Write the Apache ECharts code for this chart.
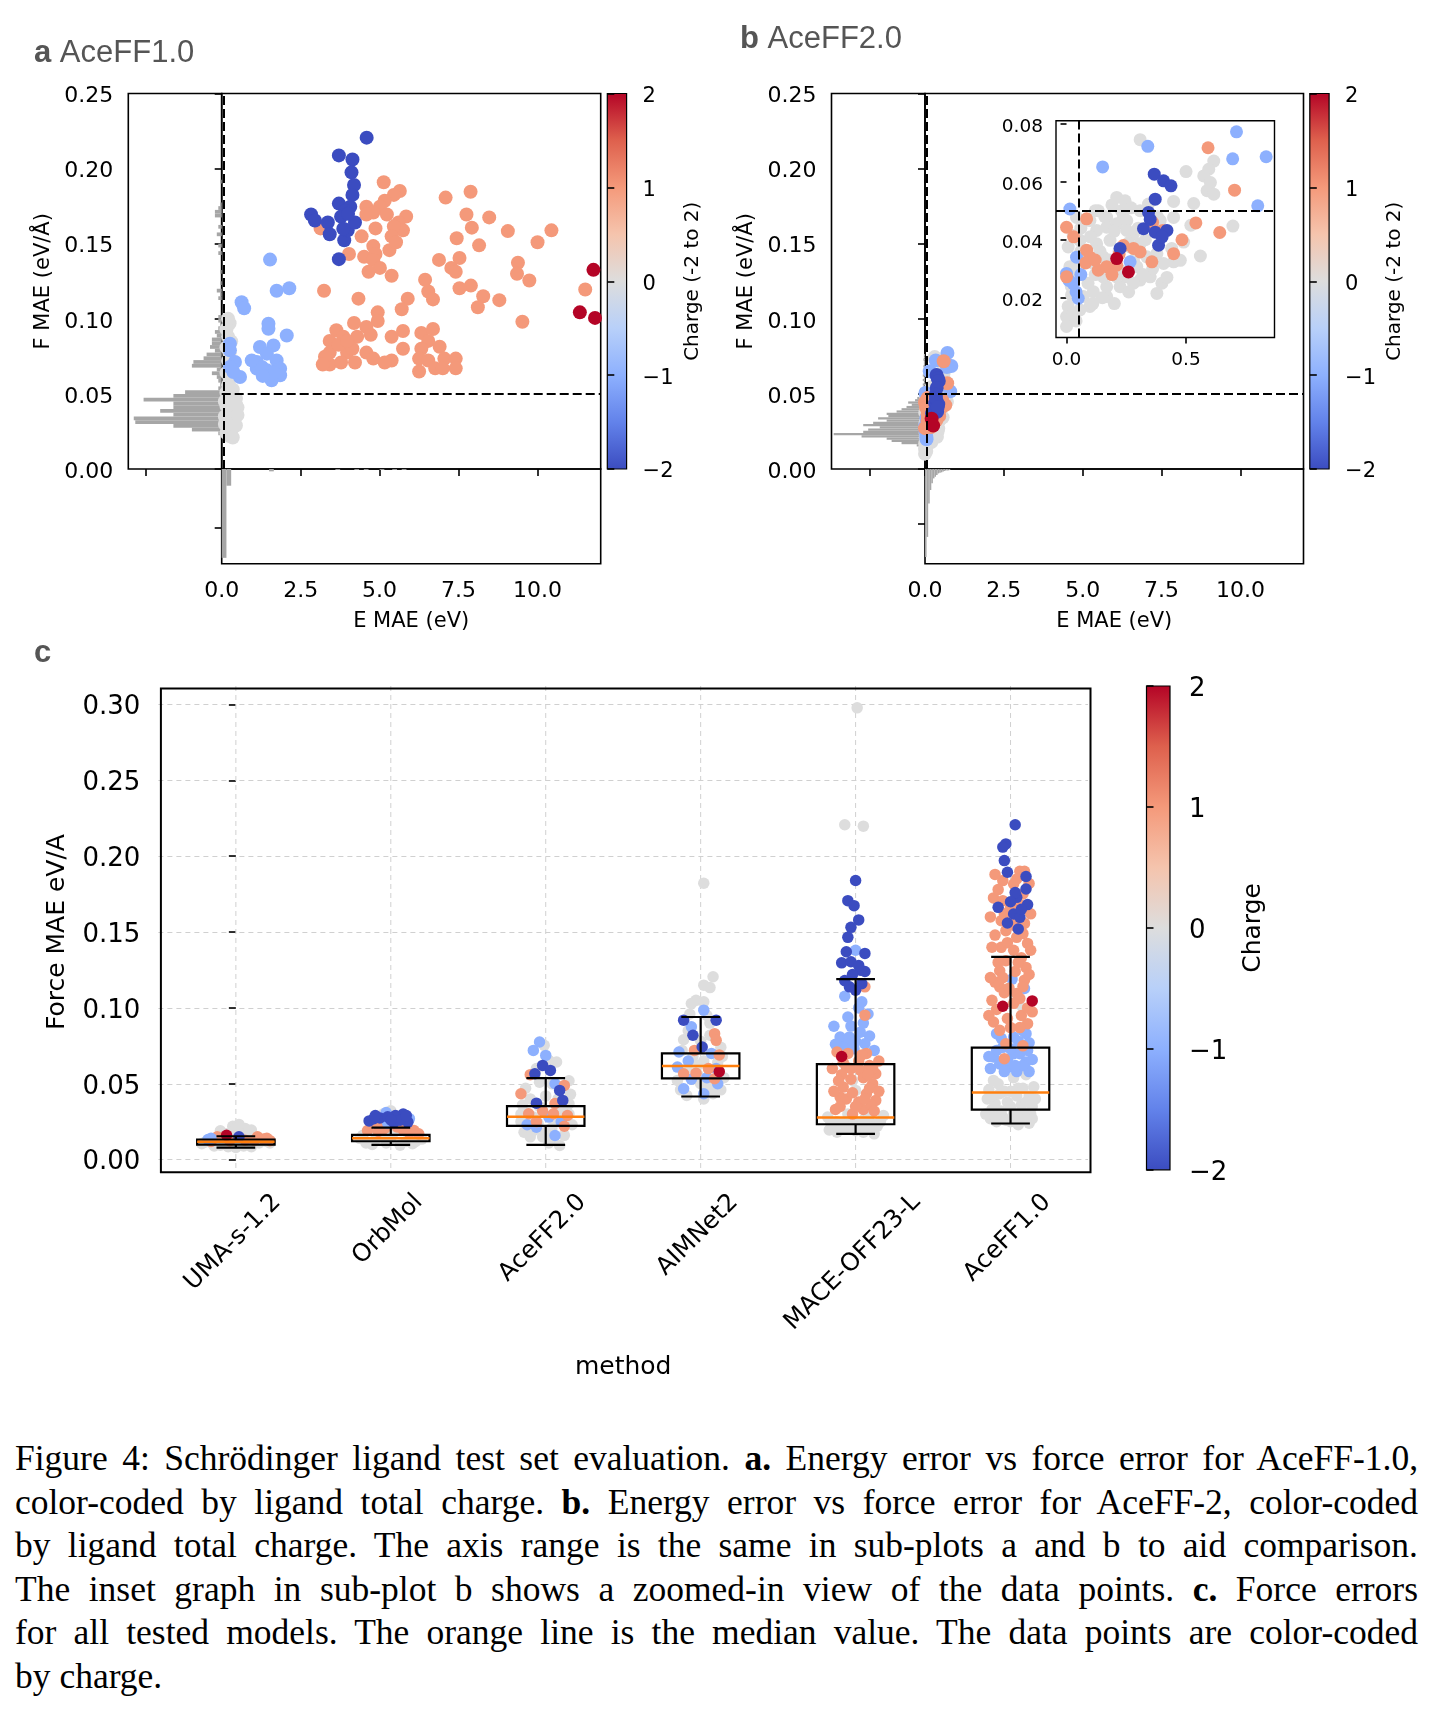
<!DOCTYPE html>
<html>
<head>
<meta charset="utf-8">
<script src="https://cdn.jsdelivr.net/npm/echarts@6/dist/echarts.min.js"></script>
<style>
body { margin: 0; background: #fff; }
#container { position: absolute; left: 0; top: 0; width: 1435px; height: 1420px; }
#caption { position: absolute; left: 15px; top: 1437px; width: 1403px; font-family: 'Liberation Serif', serif; font-size: 35.5px; color: #000; }
#caption div { height: 43.6px; line-height: 43.6px; text-align: justify; text-align-last: justify; white-space: nowrap; }
#caption div.last { text-align-last: left; }
</style>
</head>
<body>
<div id="container"></div>
<div id="caption">
<div>Figure 4: Schrödinger ligand test set evaluation. <b>a.</b> Energy error vs force error for AceFF-1.0,</div>
<div>color-coded by ligand total charge. <b>b.</b> Energy error vs force error for AceFF-2, color-coded</div>
<div>by ligand total charge. The axis range is the same in sub-plots a and b to aid comparison.</div>
<div>The inset graph in sub-plot b shows a zoomed-in view of the data points. <b>c.</b> Force errors</div>
<div>for all tested models. The orange line is the median value. The data points are color-coded</div>
<div class="last">by charge.</div>
</div>
<script>
// ---- data ----
var methods = ['UMA-s-1.2', 'OrbMol', 'AceFF2.0', 'AIMNet2', 'MACE-OFF23-L', 'AceFF1.0'];
var eTicks = [0, 2.5, 5, 7.5, 10];

// panel a : AceFF1.0, [E MAE, F MAE, charge]
var aceff1Scatter = [
  [0.2,0.100,0],[0.25,0.097,0],[0.15,0.093,0],[0.2,0.088,0],[0.3,0.085,0],[0.15,0.081,0],[0.25,0.077,0],[0.2,0.072,0],
  [0.3,0.068,0],[0.15,0.064,0],[0.25,0.060,0],[0.2,0.056,0],[0.35,0.053,0],[0.15,0.051,0],[0.3,0.049,0],[0.45,0.047,0],
  [0.2,0.046,0],[0.35,0.044,0],[0.15,0.042,0],[0.5,0.041,0],[0.25,0.040,0],[0.4,0.038,0],[0.2,0.037,0],[0.45,0.035,0],
  [0.3,0.034,0],[0.15,0.033,0],[0.4,0.031,0],[0.25,0.030,0],[0.35,0.028,0],[0.2,0.027,0],[0.3,0.025,0],[0.15,0.024,0],
  [0.25,0.022,0],[0.35,0.021,0],[0.45,0.029,0],[0.5,0.036,0],[0.1,0.045,0],[0.1,0.035,0],[0.1,0.030,0],[0.45,0.043,0],
  [1.53,0.1394,-1],[1.74,0.1187,-1],[2.14,0.1203,-1],[0.63,0.111,-1],[0.71,0.107,-1],[1.48,0.0967,-1],[1.48,0.0934,-1],
  [2.06,0.0889,-1],[0.26,0.0834,-1],[0.26,0.079,-1],[1.21,0.0812,-1],[1.64,0.0823,-1],[1.43,0.0768,-1],[0.42,0.0712,-1],
  [0.26,0.0679,-1],[1.11,0.0712,-1],[1.74,0.0723,-1],[0.58,0.0613,-1],[0.37,0.0646,-1],[1.11,0.0668,-1],[1.43,0.0657,-1],
  [1.85,0.0668,-1],[1.58,0.0591,-1],[1.85,0.0624,-1],[1.27,0.0679,-1],[0.95,0.0723,-1],[1.65,0.064,-1],[1.3,0.062,-1],
  [5.13,0.1909,1],[5.64,0.1851,1],[5.45,0.1825,1],[5.16,0.1786,1],[5.01,0.1746,1],[4.58,0.1746,1],[4.8,0.1707,1],
  [5.23,0.1694,1],[4.58,0.1694,1],[5.84,0.1681,1],[5.6,0.1641,1],[5.74,0.1589,1],[5.45,0.1615,1],[4.87,0.1602,1],
  [3.13,0.1602,1],[4.43,0.1549,1],[5.38,0.1549,1],[5.31,0.1457,1],[5.52,0.151,1],[4.8,0.1484,1],[4.03,0.1431,1],
  [4.51,0.1413,1],[4.87,0.1431,1],[4.8,0.1392,1],[5.01,0.1339,1],[4.65,0.1313,1],[5.38,0.1287,1],[7.09,0.1807,1],
  [7.88,0.1846,1],[7.75,0.1694,1],[8.47,0.1675,1],[7.92,0.1607,1],[9.06,0.1584,1],[10.44,0.1589,1],[10.0,0.151,1],
  [7.44,0.1536,1],[8.15,0.1489,1],[9.38,0.1373,1],[9.35,0.13,1],[6.88,0.1392,1],[7.53,0.1405,1],[7.27,0.1339,1],
  [7.41,0.1313,1],[9.74,0.1255,1],[6.44,0.126,1],[7.89,0.1221,1],[7.53,0.1203,1],[6.54,0.1182,1],[8.28,0.115,1],
  [8.79,0.1124,1],[8.11,0.1077,1],[5.89,0.1134,1],[5.7,0.1064,1],[6.69,0.1129,1],[3.24,0.1187,1],[4.33,0.1134,1],
  [11.51,0.1195,1],[9.52,0.098,1],[4.94,0.1043,1],[4.94,0.0985,1],[4.19,0.0972,1],[4.58,0.0945,1],[3.63,0.0924,1],
  [3.42,0.0853,1],[3.85,0.088,1],[4.29,0.088,1],[4.72,0.0893,1],[5.38,0.088,1],[5.74,0.0919,1],[6.32,0.0906,1],
  [6.69,0.0932,1],[6.54,0.0853,1],[6.9,0.0814,1],[5.74,0.0801,1],[6.32,0.0801,1],[3.42,0.0775,1],[3.97,0.0775,1],
  [4.58,0.0775,1],[4.8,0.0735,1],[5.38,0.0722,1],[3.42,0.0696,1],[3.78,0.0709,1],[4.22,0.0709,1],[3.27,0.0748,1],
  [3.7,0.0827,1],[4.14,0.0801,1],[6.25,0.0735,1],[6.54,0.0722,1],[7.05,0.0735,1],[7.41,0.0735,1],[6.76,0.067,1],
  [7.41,0.067,1],[6.25,0.0649,1],[7.0,0.067,1],[3.2,0.0696,1],[5.16,0.0709,1],[3.97,0.0853,1],
  [4.59,0.2206,-2],[3.71,0.2088,-2],[4.14,0.2061,-2],[4.11,0.1975,-2],[4.19,0.1891,-2],[4.14,0.1825,-2],[3.71,0.1767,-2],
  [4.07,0.1746,-2],[2.83,0.1694,-2],[2.95,0.1654,-2],[3.36,0.1641,-2],[3.42,0.1563,-2],[3.88,0.1523,-2],[3.99,0.1589,-2],
  [4.22,0.1641,-2],[3.71,0.1397,-2],[3.92,0.172,-2],[3.78,0.168,-2],[4.0,0.17,-2],[3.85,0.16,-2],
  [11.77,0.1326,2],[11.34,0.1043,2],[11.82,0.1006,2]
];
// panel a marginal histograms: [bin start, count]
var aceff1HistF = [
  [0.0225,0.9],[0.025,7.9],[0.0275,12.8],[0.03,22.9],[0.0325,23.3],[0.035,12.8],[0.0375,16.3],[0.04,12.8],[0.0425,12.8],
  [0.045,20.7],[0.0475,12.8],[0.05,9.7],[0.0525,0.9],[0.055,0.4],[0.0575,0.9],[0.06,1.3],[0.0625,2.6],[0.065,1.3],
  [0.0675,7.9],[0.07,7.5],[0.0725,4.8],[0.075,4.0],[0.0775,1.8],[0.08,3.1],[0.0825,2.6],[0.085,2.6],[0.0875,1.3],
  [0.09,1.8],[0.0925,0.9],[0.095,0.4],[0.0975,0.9],[0.1,0.9],[0.1125,0.9],[0.115,0.4],[0.1175,1.3],[0.1225,0.4],
  [0.13,0.4],[0.1425,0.9],[0.1475,0.9],[0.155,1.3],[0.16,0.9],[0.1675,1.8],[0.17,1.8],[0.1725,0.9],[0.175,0.4],[0.19,0.4]
];
var aceff1HistE = [
  [0.0,30.3],[0.15,5.7],[1.5,0.8],[3.6,0.3],[4.2,0.3],[4.5,0.3],[5.0,0.3],[5.4,0.3],[5.7,0.3]
];

// panel b : AceFF2.0, [E MAE, F MAE, charge]
var aceff2Scatter = [
  [0.308,0.0745,0],[0.616,0.0671,0],[0.595,0.0643,0],[0.574,0.062,0],[0.5,0.0635,0],[0.602,0.0597,0],[0.588,0.0569,0],
  [0.616,0.0557,0],[0.448,0.0532,0],[0.532,0.0525,0],[0.21,0.0546,0],[0.245,0.0534,0],[0.343,0.0523,0],[0.133,0.05,0],
  [0.168,0.0477,0],[0.238,0.0477,0],[0.696,0.0447,0],[0.49,0.0392,0],[0.56,0.0344,0],[0.476,0.0329,0],[0.028,0.0415,0],
  [0.007,0.0375,0],[0.056,0.0398,0],[0.126,0.0432,0],[0.168,0.0443,0],[0.21,0.0455,0],[0.252,0.0466,0],[0.28,0.042,0],
  [0.182,0.0398,0],[0.126,0.0386,0],[0.266,0.0375,0],[0.308,0.0386,0],[0.336,0.0341,0],[0.294,0.0307,0],[0.252,0.0272,0],
  [0.308,0.0261,0],[0.35,0.0272,0],[0.399,0.025,0],[0.378,0.0215,0],[0.28,0.025,0],[0.224,0.0238,0],[0.168,0.0238,0],
  [0.112,0.0221,0],[0.07,0.0204,0],[0.098,0.017,0],[0.056,0.0158,0],[0.007,0.017,0],[0.0,0.0135,0],[0.0,0.0101,0],
  [0.028,0.0147,0],[0.021,0.021,0],[0.014,0.0307,0],[0.042,0.0318,0],[0.07,0.034,0],[0.112,0.0318,0],[0.154,0.034,0],
  [0.21,0.0272,0],[0.154,0.0272,0],[0.168,0.0204,0],[0.224,0.0295,0],[0.28,0.0329,0],[0.406,0.0318,0],[0.448,0.0324,0],
  [0.378,0.0352,0],[0.252,0.0432,0],[0.308,0.05,0],[0.392,0.0466,0],[0.448,0.0477,0],[0.098,0.0466,0],[0.042,0.0477,0],
  [0.05,0.028,0],[0.09,0.025,0],[0.12,0.028,0],[0.18,0.033,0],[0.22,0.036,0],[0.26,0.039,0],[0.06,0.036,0],[0.1,0.041,0],
  [0.14,0.036,0],[0.2,0.043,0],[0.3,0.044,0],[0.33,0.04,0],[0.36,0.03,0],[0.32,0.028,0],[0.26,0.022,0],[0.2,0.018,0],
  [0.15,0.02,0],[0.11,0.018,0],[0.04,0.012,0],[0.02,0.024,0],[0.06,0.044,0],[0.16,0.048,0],[0.23,0.05,0],[0.27,0.051,0],
  [0.19,0.052,0],[0.12,0.05,0],[0.42,0.027,0],[0.44,0.037,0],[0.52,0.045,0],[0.38,0.048,0],
  [0.711,0.0772,-1],[0.34,0.0722,-1],[0.835,0.0686,-1],[0.695,0.0679,-1],[0.151,0.0651,-1],[0.8,0.0517,-1],
  [0.014,0.0506,-1],[0.0,0.0284,-1],[0.042,0.034,-1],[0.028,0.0249,-1],[0.049,0.0198,-1],[0.266,0.0324,-1],
  [0.01,0.026,-1],[0.04,0.022,-1],[0.06,0.028,-1],
  [0.592,0.0717,1],[0.703,0.0571,1],[0.541,0.0458,1],[0.641,0.0425,1],[0.403,0.0432,1],[0.483,0.04,1],[0.448,0.0352,1],
  [0.357,0.0324,1],[0.308,0.0358,1],[0.084,0.0472,1],[0.0,0.0443,1],[0.084,0.0364,1],[0.098,0.034,1],[0.168,0.0307,1],
  [0.21,0.0312,1],[0.0,0.0272,1],[0.133,0.0295,1],[0.238,0.038,1],[0.03,0.041,1],[0.08,0.032,1],[0.12,0.033,1],
  [0.19,0.028,1],[0.28,0.037,1],[0.22,0.035,1],[0.36,0.046,1],
  [0.367,0.0626,-2],[0.406,0.0603,-2],[0.437,0.0586,-2],[0.371,0.054,-2],[0.343,0.0494,-2],[0.322,0.0438,-2],
  [0.371,0.0426,-2],[0.385,0.0381,-2],[0.42,0.0432,-2],[0.224,0.037,-2],[0.35,0.047,-2],[0.4,0.041,-2],
  [0.21,0.0335,2],[0.259,0.0289,2]
];
var aceff2HistF = [
  [0.0105,0.8],[0.012,0.6],[0.0135,1.0],[0.015,3.0],[0.0165,8.5],[0.018,12.1],[0.0195,13.9],[0.021,23.0],[0.0225,33.1],
  [0.024,22.4],[0.0255,20.6],[0.027,16.4],[0.0285,22.4],[0.03,18.8],[0.0315,13.9],[0.033,17.0],[0.0345,13.3],
  [0.036,13.9],[0.0375,10.3],[0.039,8.5],[0.0405,6.7],[0.042,4.8],[0.0435,6.1],[0.045,3.6],[0.0465,2.8],[0.048,1.8],
  [0.0495,1.2],[0.051,0.8],[0.0525,1.6],[0.054,0.6],[0.0555,0.8],[0.057,0.4],[0.0585,0.8],[0.06,0.4],[0.0615,0.8],
  [0.063,0.4],[0.0645,0.6],[0.066,0.4],[0.0675,0.6],[0.069,0.4],[0.0705,0.4],[0.072,0.6],[0.0735,0.4],[0.075,0.4]
];
var aceff2HistE = [
  [0.0,31.9],[0.05,24.6],[0.1,12.5],[0.15,7.6],[0.2,5.2],[0.25,3.4],[0.3,2.8],[0.35,2.2],[0.4,1.6],[0.45,1.4],
  [0.5,1.2],[0.55,0.9],[0.6,0.7],[0.65,0.5],[0.7,0.5],[0.75,0.4]
];

// panel c : per method [jitter offset, force MAE, charge]
var umaPts = [
  [-0.15,0.0105,0],[-0.10,0.0095,0],[-0.05,0.0085,0],[0.00,0.0080,0],[0.05,0.0090,0],[0.10,0.0100,0],[0.15,0.0110,0],
  [0.20,0.0120,0],[-0.20,0.0115,0],[-0.12,0.0125,0],[-0.02,0.0135,0],[0.08,0.0140,0],[0.04,0.0160,0],[-0.06,0.0170,0],
  [0.00,0.0190,0],[0.06,0.0205,0],[-0.02,0.0220,0],[0.02,0.0232,0],[0.08,0.0175,0],[-0.10,0.0160,0],[0.10,0.0085,0],
  [-0.14,0.0090,0],[-0.22,0.0105,0],[0.22,0.0110,0],[-0.08,0.0120,0],[0.14,0.0118,0],[0.00,0.0210,0],[0.10,0.0195,0],
  [-0.10,0.0190,0],
  [0.12,0.0128,1],[0.18,0.0135,1],[-0.08,0.0145,1],[0.14,0.0150,1],[0.22,0.0125,1],[-0.12,0.0150,1],[-0.16,0.0120,1],
  [0.06,0.0128,1],[0.20,0.0140,1],[-0.04,0.0125,1],
  [-0.18,0.0132,-1],[-0.16,0.0140,-1],[-0.06,0.0160,2],[0.02,0.0150,-2]
];
var orbPts = [
  [-0.18,0.0160,0],[0.18,0.0150,0],[-0.10,0.0130,0],[0.10,0.0120,0],[0.00,0.0140,0],[-0.12,0.0100,0],[0.06,0.0095,0],
  [-0.03,0.0110,0],[0.14,0.0105,0],[-0.06,0.0165,0],[0.02,0.0180,0],[0.00,0.0322,0],[-0.05,0.0300,0],[0.09,0.0235,0],
  [-0.20,0.0140,0],[0.20,0.0135,0],[-0.16,0.0110,0],[0.16,0.0120,0],
  [-0.15,0.0192,1],[0.15,0.0192,1],[-0.09,0.0236,1],[0.04,0.0215,1],[-0.04,0.0205,1],[0.12,0.0175,1],[-0.08,0.0185,1],
  [0.08,0.0195,1],[0.18,0.0170,1],
  [0.06,0.0285,-1],[-0.03,0.0310,-1],[0.12,0.0270,-1],[-0.02,0.0240,-1],
  [-0.11,0.0269,-2],[-0.07,0.0275,-2],[0.02,0.0245,-2],[0.08,0.0300,-2],[0.11,0.0247,-2],[0.03,0.0290,-2],
  [-0.02,0.0282,-2],[0.06,0.0260,-2],[-0.14,0.0255,-2],[0.10,0.0290,-2],[-0.10,0.0290,-2],[0.00,0.0262,-2]
];
var aceff2Pts = [
  [-0.01,0.0753,0],[0.07,0.0643,0],[-0.12,0.0300,0],[-0.08,0.0190,0],[0.03,0.0126,0],[0.09,0.0093,0],[0.15,0.0368,0],
  [0.17,0.0230,0],[-0.06,0.0600,0],[0.02,0.0654,0],[-0.04,0.0510,0],[-0.13,0.0470,0],[0.13,0.0340,0],[-0.16,0.0250,0],
  [-0.02,0.0150,0],[-0.08,0.0280,0],[0.07,0.0270,0],[0.15,0.0300,0],[0.00,0.0420,0],[0.04,0.0210,0],[-0.10,0.0400,0],
  [0.08,0.0400,0],[0.02,0.0110,0],[-0.05,0.0240,0],[-0.14,0.0180,0],[0.12,0.0160,0],[-0.04,0.0350,0],[0.10,0.0330,0],
  [-0.15,0.0360,0],[0.16,0.0430,0],[0.04,0.0500,0],[-0.10,0.0150,0],[0.15,0.0520,0],[-0.16,0.0300,0],[0.00,0.0180,0],
  [-0.04,0.0775,-1],[-0.08,0.0720,-1],[0.00,0.0687,-1],[0.06,0.0500,-1],[0.06,0.0159,-1],[-0.06,0.0214,-1],
  [0.10,0.0250,-1],[0.02,0.0280,-1],[-0.12,0.0230,-1],
  [-0.10,0.0560,1],[0.12,0.0489,1],[-0.16,0.0434,1],[-0.11,0.0302,1],[0.05,0.0302,1],[0.14,0.0291,1],[-0.02,0.0320,1],
  [0.06,0.0370,1],[-0.06,0.0250,1],[0.12,0.0220,1],
  [-0.02,0.0621,-2],[0.03,0.0588,-2],[-0.07,0.0566,-2],[0.09,0.0456,-2],[0.11,0.0390,-2],[-0.06,0.0372,-2]
];
var aimPts = [
  [0.02,0.1822,0],[0.08,0.1205,0],[0.02,0.1150,0],[0.06,0.1134,0],[-0.03,0.1050,0],[-0.06,0.1029,0],[0.02,0.1040,0],
  [-0.07,0.0960,0],[0.06,0.0900,0],[-0.11,0.0790,0],[0.13,0.0740,0],[0.06,0.0820,0],[-0.05,0.0680,0],[-0.15,0.0522,0],
  [0.15,0.0540,0],[-0.09,0.0600,0],[0.11,0.0640,0],[0.02,0.0650,0],[0.08,0.0434,0],[-0.09,0.0423,0],[0.02,0.0400,0],
  [-0.02,0.0620,0],[0.00,0.0500,0],[-0.12,0.0720,0],[0.14,0.0680,0],[-0.02,0.0560,0],[0.06,0.0480,0],[-0.13,0.0460,0],
  [0.13,0.0460,0],[0.00,0.0780,0],[-0.08,0.0850,0],[0.04,0.0950,0],
  [0.02,0.0985,-1],[-0.06,0.0875,-1],[-0.14,0.0709,-1],[0.11,0.0500,-1],[-0.11,0.0467,-1],[0.02,0.0434,-1],
  [0.07,0.0700,-1],[-0.08,0.0650,-1],[-0.06,0.0530,-1],[0.04,0.0540,-1],[0.10,0.0600,-1],[-0.15,0.0610,-1],
  [0.09,0.0830,1],[0.10,0.0786,1],[-0.11,0.0566,1],[0.09,0.0533,1],[-0.03,0.0570,1],[0.05,0.0600,1],[-0.04,0.0720,1],
  [0.12,0.0690,1],
  [-0.11,0.0919,-2],[0.10,0.0919,-2],[-0.05,0.0820,-2],[0.01,0.0742,-2],[0.12,0.0580,2]
];
var macePts = [
  [0.01,0.2978,0],[-0.07,0.2207,0],[0.05,0.2198,0],[0.00,0.0456,0],[-0.02,0.0522,0],[-0.17,0.0195,0],[-0.06,0.0205,0],
  [0.07,0.0195,0],[0.16,0.0250,0],[-0.12,0.0250,0],[0.00,0.0190,0],[0.11,0.0190,0],[0.04,0.0230,0],[-0.04,0.0260,0],
  [-0.14,0.0230,0],[-0.08,0.0240,0],[0.02,0.0250,0],[0.10,0.0240,0],[0.14,0.0220,0],[-0.18,0.0280,0],[0.18,0.0290,0],
  [-0.05,0.0300,0],[0.08,0.0280,0],[-0.10,0.0200,0],[0.05,0.0180,0],[-0.12,0.0180,0],[0.12,0.0170,0],[0.00,0.0215,0],
  [-0.16,0.0240,0],[0.06,0.0270,0],
  [0.00,0.1380,-1],[-0.07,0.1077,-1],[0.04,0.1040,-1],[-0.05,0.0940,-1],[-0.14,0.0879,-1],[-0.10,0.0808,-1],
  [-0.04,0.0808,-1],[0.03,0.0840,-1],[0.09,0.0815,-1],[0.06,0.0764,-1],[-0.06,0.0764,-1],[-0.01,0.0730,-1],
  [-0.03,0.0880,-1],[0.05,0.0900,-1],[-0.08,0.0740,-1],[0.12,0.0720,-1],[0.00,0.0780,-1],[-0.13,0.0760,-1],
  [0.08,0.0960,-1],[0.02,0.1000,-1],
  [0.06,0.1139,1],[0.06,0.0952,1],[-0.12,0.0709,1],[0.07,0.0700,1],[0.13,0.0566,1],[-0.06,0.0610,1],[0.03,0.0590,1],
  [0.11,0.0500,1],[-0.08,0.0478,1],[0.07,0.0434,1],[-0.03,0.0530,1],[-0.10,0.0412,1],[0.13,0.0390,1],[-0.02,0.0300,1],
  [0.05,0.0330,1],[-0.13,0.0330,1],[0.02,0.0650,1],[0.09,0.0620,1],[-0.09,0.0560,1],[0.02,0.0380,1],[-0.06,0.0400,1],
  [0.09,0.0470,1],[-0.11,0.0520,1],[0.05,0.0540,1],[-0.03,0.0600,1],[0.11,0.0600,1],[-0.08,0.0640,1],[0.04,0.0690,1],
  [0.00,0.0350,1],[0.10,0.0360,1],[-0.15,0.0600,1],[0.15,0.0450,1],[-0.14,0.0450,1],[0.15,0.0650,1],[-0.05,0.0700,1],
  [0.08,0.0560,1],[-0.02,0.0440,1],[0.06,0.0400,1],[-0.10,0.0350,1],[0.12,0.0320,1],
  [0.00,0.1840,-2],[-0.05,0.1707,-2],[-0.01,0.1674,-2],[0.02,0.1580,-2],[-0.03,0.1531,-2],[-0.05,0.1465,-2],
  [0.06,0.1359,-2],[-0.06,0.1370,-2],[-0.09,0.1297,-2],[-0.03,0.1304,-2],[0.03,0.1249,-2],[0.06,0.1240,-2],
  [-0.04,0.1139,-2],[0.00,0.1117,-2],[0.04,0.1160,-2],[-0.02,0.1220,-2],[0.02,0.1280,-2],[-0.07,0.1180,-2],
  [-0.09,0.0680,2]
];
var aceff1Pts = [
  [-0.11,0.0522,0],[0.02,0.0540,0],[0.10,0.0560,0],[-0.07,0.0434,0],[0.12,0.0420,0],[-0.15,0.0400,0],[0.02,0.0302,0],
  [-0.07,0.0302,0],[0.10,0.0302,0],[-0.03,0.0260,0],[0.14,0.0270,0],[0.05,0.0470,0],[-0.02,0.0380,0],[0.07,0.0360,0],
  [-0.12,0.0330,0],[0.12,0.0240,0],[0.08,0.1000,0],[-0.09,0.0250,0],[0.05,0.0230,0],[-0.13,0.0270,0],[-0.05,0.0280,0],
  [0.04,0.0270,0],[0.13,0.0300,0],[-0.10,0.0370,0],[0.00,0.0350,0],[0.10,0.0380,0],[-0.14,0.0460,0],[-0.04,0.0450,0],
  [0.08,0.0470,0],[0.15,0.0480,0],[-0.08,0.0500,0],[0.04,0.0420,0],[-0.12,0.0420,0],[0.14,0.0350,0],[0.00,0.0250,0],
  [-0.06,0.0320,0],[0.07,0.0320,0],[-0.16,0.0300,0],[0.16,0.0400,0],[0.00,0.0450,0],[-0.10,0.0280,0],[0.10,0.0270,0],
  [0.01,0.1190,-1],[0.09,0.1128,-1],[-0.09,0.0830,-1],[0.02,0.0808,-1],[0.10,0.0830,-1],[-0.11,0.0676,-1],
  [0.02,0.0698,-1],[0.10,0.0643,-1],[-0.01,0.0610,-1],[-0.07,0.0630,-1],[0.06,0.0698,-1],[0.04,0.0580,-1],
  [-0.13,0.0600,-1],[-0.04,0.0580,-1],[0.12,0.0580,-1],[0.08,0.0620,-1],[-0.09,0.0720,-1],[0.00,0.0730,-1],
  [0.11,0.0720,-1],[-0.02,0.0660,-1],[0.05,0.0780,-1],[-0.06,0.0800,-1],[0.12,0.0770,-1],[-0.14,0.0680,-1],
  [0.14,0.0660,-1],[0.03,0.0620,-1],[-0.05,0.0740,-1],[0.08,0.0850,-1],
  [0.06,0.1901,1],[-0.05,0.1839,1],[0.02,0.1817,1],[-0.11,0.1725,1],[-0.05,0.1707,1],[0.08,0.1751,1],[0.00,0.1663,1],
  [-0.06,0.1575,1],[0.09,0.1557,1],[-0.03,0.1509,1],[0.04,0.1465,1],[0.11,0.1425,1],[-0.06,0.1399,1],[0.02,0.1380,1],
  [-0.03,0.1311,1],[0.10,0.1267,1],[-0.07,0.1245,1],[0.09,0.1183,1],[-0.07,0.1139,1],[0.04,0.1095,1],[0.06,0.1062,1],
  [0.14,0.0974,1],[-0.11,0.0907,1],[0.11,0.0896,1],[-0.07,0.0852,1],[0.06,0.0870,1],[-0.03,0.0764,1],[0.08,0.0750,1],
  [-0.04,0.0665,1],[-0.02,0.0930,1],[0.07,0.0950,1],[-0.09,0.0990,1],[0.02,0.1030,1],[-0.04,0.1100,1],[0.08,0.1140,1],
  [-0.10,0.1170,1],[0.03,0.1240,1],[-0.08,0.1300,1],[0.07,0.1330,1],[-0.02,0.1430,1],[0.08,0.1490,1],[-0.10,0.1480,1],
  [0.03,0.1540,1],[-0.04,0.1620,1],[0.06,0.1680,1],[-0.08,0.1780,1],[0.04,0.1850,1],[0.09,0.1900,1],
  [-0.13,0.1600,1],[0.13,0.1620,1],[-0.12,0.1400,1],[0.13,0.1380,1],[-0.13,0.1200,1],[0.12,0.1220,1],[-0.12,0.1050,1],
  [0.11,0.1000,1],[-0.14,0.0950,1],[0.00,0.0870,1],[-0.01,0.1130,1],[0.00,0.1560,1],[-0.10,0.1880,1],[0.12,0.1820,1],
  [0.05,0.1300,1],[-0.05,0.1200,1],
  [0.03,0.2207,-2],[-0.03,0.2081,-2],[-0.05,0.2060,-2],[-0.04,0.1971,-2],[-0.02,0.1894,-2],[0.10,0.1866,-2],
  [0.10,0.1784,-2],[0.04,0.1729,-2],[-0.08,0.1663,-2],[0.11,0.1681,-2],[0.02,0.1619,-2],[0.06,0.1597,-2],
  [0.03,0.1760,-2],[0.07,0.1650,-2],[0.00,0.1700,-2],[-0.02,0.1560,-2],[0.05,0.1520,-2],
  [-0.05,0.1011,2],[0.14,0.1046,2]
];
// box stats per method: [lower whisker, Q1, median, Q3, upper whisker]
var boxStats = [
  [0.0079, 0.0099, 0.0117, 0.0132, 0.0154],
  [0.0097, 0.0121, 0.0141, 0.0163, 0.0211],
  [0.0097, 0.0222, 0.0282, 0.0352, 0.0537],
  [0.0416, 0.0535, 0.0617, 0.0700, 0.0940],
  [0.0170, 0.0233, 0.0277, 0.0630, 0.1190],
  [0.0238, 0.0330, 0.0443, 0.0738, 0.1337]
];
var cYLimits = [-0.0067, 0.3122];

// ---- helpers ----
var chargeColors = { '-2': '#3b4cc0', '-1': '#8db0fe', '0': '#dddddd', '1': '#f4997a', '2': '#b40426' };
var txt = { fontFamily: 'DejaVu Sans', color: '#000' };
var tickLine = { color: '#000', width: 1.6 };
var histColor = '#a6a6a6';
var catFont = 24.5;
var measureCtx = document.createElement('canvas').getContext('2d');
measureCtx.font = catFont + 'px "DejaVu Sans"';
// y labels: glyph centre sits a few px below the tick, as matplotlib draws it
var yLabelShift = { verticalAlign: 'top', lineHeight: 6 };

function coolwarm() {
  return new echarts.graphic.LinearGradient(0, 0, 0, 1, [
    { offset: 0, color: '#b40426' }, { offset: 0.125, color: '#de604d' }, { offset: 0.25, color: '#f4997a' },
    { offset: 0.375, color: '#f5c4ad' }, { offset: 0.5, color: '#dddddd' }, { offset: 0.625, color: '#b8d0f9' },
    { offset: 0.75, color: '#8db0fe' }, { offset: 0.875, color: '#6282ea' }, { offset: 1, color: '#3b4cc0' }
  ]);
}

function box(l, t, w, h, extra) {
  return Object.assign({ left: l, top: t, width: w, height: h, show: true, borderColor: '#000', borderWidth: 1.6,
    backgroundColor: 'transparent' }, extra || {});
}

function hiddenAxis(gi, min, max) {
  return { type: 'value', gridIndex: gi, min: min, max: max, show: false };
}

function countAxis(gi, max, pos) {
  return { type: 'value', gridIndex: gi, min: 0, max: max, inverse: true, position: pos,
    axisLine: { show: false }, splitLine: { show: false }, axisLabel: { show: false },
    axisTick: { show: true, customValues: [20], length: 7, lineStyle: tickLine } };
}

function fAxis(gi) {
  return { type: 'value', gridIndex: gi, min: 0, max: 0.25, interval: 0.05, position: 'left',
    axisLine: { show: false }, splitLine: { show: false },
    axisTick: { length: 7, lineStyle: tickLine },
    axisLabel: Object.assign({ margin: 15, fontSize: 22,
      formatter: function (v) { return v.toFixed(2); } }, yLabelShift, txt),
    name: 'F MAE (eV/Å)', nameLocation: 'middle', nameRotate: 90, nameGap: 74,
    nameTextStyle: Object.assign({ fontSize: 21 }, txt) };
}

function eAxis(gi) {
  return { type: 'value', gridIndex: gi, min: 0, max: 12, position: 'bottom',
    axisLine: { show: false }, splitLine: { show: false },
    axisTick: { customValues: eTicks, length: 7, lineStyle: tickLine },
    axisLabel: Object.assign({ customValues: eTicks, margin: 17, fontSize: 22,
      formatter: function (v) { return v.toFixed(1); } }, txt),
    name: 'E MAE (eV)', nameLocation: 'middle', nameGap: 47, nameTextStyle: Object.assign({ fontSize: 21 }, txt) };
}

function cbarAxis(gi, name, fs, gap, margin) {
  return { type: 'value', gridIndex: gi, min: -2, max: 2, interval: 1, position: 'right',
    axisLine: { show: false }, splitLine: { show: false },
    axisTick: { length: 7, lineStyle: tickLine },
    axisLabel: Object.assign({ margin: margin, fontSize: fs, formatter: function (v) {
      return v < 0 ? '\u2212' + (-v) : String(v); } }, yLabelShift, txt),
    name: name, nameLocation: 'middle', nameRotate: 90, nameGap: gap,
    nameTextStyle: Object.assign({ fontSize: fs - 1 }, txt) };
}

function scatter(data, xi, yi, size, marks) {
  var s = { type: 'scatter', xAxisIndex: xi, yAxisIndex: yi, symbolSize: size, animation: false, z: 3,
    data: data.map(function (p) { return [p[0], p[1], p[2]]; }),
    itemStyle: { opacity: 1, color: function (p) { return chargeColors[String(p.value[2])]; } } };
  if (marks) {
    s.markLine = { silent: true, symbol: 'none', animation: false, label: { show: false },
      lineStyle: { color: '#000', type: [9, 4], width: 2 }, data: [{ xAxis: 0.05 }, { yAxis: 0.05 }] };
  }
  return s;
}

function hist(data, xi, yi, width, horizontal) {
  return { type: 'custom', xAxisIndex: xi, yAxisIndex: yi, data: data, animation: false, silent: true,
    renderItem: function (params, api) {
      var s = api.value(0), c = api.value(1), p0, p1;
      if (horizontal) { p0 = api.coord([0, s]); p1 = api.coord([c, s + width]); }
      else { p0 = api.coord([s, 0]); p1 = api.coord([s + width, c]); }
      return { type: 'rect', shape: { x: Math.min(p0[0], p1[0]), y: Math.min(p0[1], p1[1]),
        width: Math.abs(p1[0] - p0[0]), height: Math.abs(p1[1] - p0[1]) }, style: { fill: histColor } };
    } };
}

// panel c data tables
var cPoints = [];
[umaPts, orbPts, aceff2Pts, aimPts, macePts, aceff1Pts].forEach(function (arr, i) {
  arr.forEach(function (p) { cPoints.push([i + p[0], p[1], p[2]]); });
});
var boxData = boxStats.map(function (b, i) { return [i].concat(b); });
var catIdx = methods.map(function (m, i) { return [i]; });

var dom = document.getElementById('container');
var myChart = echarts.init(dom);

var titleStyle = { fontSize: 31, fontFamily: 'Liberation Sans', color: '#555', fontWeight: 'normal',
  rich: { b: { fontSize: 31, fontFamily: 'Liberation Sans', color: '#555', fontWeight: 'bold' } } };

var option = {
  animation: false,
  backgroundColor: '#fff',
  title: [
    { text: '{b|a} AceFF1.0', left: 34, top: 38, padding: 0, textStyle: titleStyle },
    { text: '{b|b} AceFF2.0', left: 740, top: 24, padding: 0, textStyle: titleStyle },
    { text: 'c', left: 34, top: 638, padding: 0,
      textStyle: { fontSize: 31, fontFamily: 'Liberation Sans', color: '#555', fontWeight: 'bold' } }
  ],
  grid: [
    box(128.3, 93.5, 93.4, 375.5),           // 0 a: F histogram
    box(221.7, 93.5, 379, 375.5),            // 1 a: scatter
    box(221.7, 469, 379, 94.7),              // 2 a: E histogram
    box(607.3, 93.5, 19.3, 375.5, { borderWidth: 1.2, backgroundColor: coolwarm() }), // 3 a: colorbar
    box(831.5, 93.5, 93.5, 375.5),           // 4 b: F histogram
    box(925, 93.5, 378.5, 375.5),            // 5 b: scatter
    box(925, 469, 378.5, 94.7),              // 6 b: E histogram
    box(1309.8, 93.5, 19.3, 375.5, { borderWidth: 1.2, backgroundColor: coolwarm() }), // 7 b: colorbar
    box(1056, 120.8, 218.5, 216.7, { borderWidth: 1.4, backgroundColor: '#fff' }),    // 8 b: inset
    { left: 158.4, top: 704.5, width: 929.6, height: 455.1, show: false },            // 9 c: strip + box
    box(1146.5, 686, 23.5, 483.8, { borderWidth: 1.2, backgroundColor: coolwarm() })  // 10 c: colorbar
  ],
  xAxis: [
    countAxis(0, 24.75, 'bottom'),
    hiddenAxis(1, 0, 12),
    eAxis(2),
    hiddenAxis(3, 0, 1),
    countAxis(4, 33.9, 'bottom'),
    hiddenAxis(5, 0, 12),
    eAxis(6),
    hiddenAxis(7, 0, 1),
    { type: 'value', gridIndex: 8, min: -0.044, max: 0.87, position: 'bottom',
      axisLine: { show: false }, splitLine: { show: false },
      axisTick: { customValues: [0, 0.5], length: 6, lineStyle: tickLine },
      axisLabel: Object.assign({ customValues: [0, 0.5], margin: 13, fontSize: 18.5,
        formatter: function (v) { return v.toFixed(1); } }, txt) },
    { type: 'category', gridIndex: 9, data: methods, position: 'bottom', offset: 10.2,
      axisLine: { show: false }, splitLine: { show: false },
      axisTick: { alignWithLabel: true, length: 7, lineStyle: tickLine },
      axisLabel: { show: false },
      name: 'method', nameLocation: 'middle', nameGap: 185, nameTextStyle: Object.assign({ fontSize: 25 }, txt) },
    hiddenAxis(10, 0, 1),
    hiddenAxis(9, -0.5, 5.5)
  ],
  yAxis: [
    fAxis(0),
    hiddenAxis(1, 0, 0.25),
    countAxis(2, 32.3, 'left'),
    cbarAxis(3, 'Charge (-2 to 2)', 21, 56, 16),
    fAxis(4),
    hiddenAxis(5, 0, 0.25),
    countAxis(6, 34.3, 'left'),
    cbarAxis(7, 'Charge (-2 to 2)', 21, 56, 16),
    { type: 'value', gridIndex: 8, min: 0.0063, max: 0.081, position: 'left',
      axisLine: { show: false }, splitLine: { show: false },
      axisTick: { customValues: [0.02, 0.04, 0.06, 0.08], length: 6, lineStyle: tickLine },
      axisLabel: Object.assign({ customValues: [0.02, 0.04, 0.06, 0.08], margin: 13, fontSize: 18.5,
        formatter: function (v) { return v.toFixed(2); } }, yLabelShift, txt) },
    { type: 'value', gridIndex: 9, min: 0, max: 0.30, interval: 0.05, position: 'left',
      axisLine: { show: false },
      splitLine: { show: true, lineStyle: { color: '#d0d0d0', type: [5, 4], width: 1 } },
      axisTick: { length: 7, lineStyle: tickLine },
      axisLabel: Object.assign({ margin: 18, fontSize: 26,
        formatter: function (v) { return v.toFixed(2); } }, yLabelShift, txt),
      name: 'Force MAE eV/A', nameLocation: 'middle', nameRotate: 90, nameGap: 88,
      nameTextStyle: Object.assign({ fontSize: 25 }, txt) },
    cbarAxis(10, 'Charge', 26, 71, 19)
  ],
  graphic: [
    { type: 'rect', left: 158.4, top: 686, shape: { width: 929.6, height: 483.8 }, silent: true, z: 10,
      style: { fill: 'none', stroke: '#000', lineWidth: 2 } }
  ],
  series: [
    hist(aceff1HistF, 0, 0, 0.0025, true),
    scatter(aceff1Scatter, 1, 1, 14, true),
    hist(aceff1HistE, 2, 2, 0.15, false),
    hist(aceff2HistF, 4, 4, 0.0015, true),
    scatter(aceff2Scatter, 5, 5, 14, true),
    hist(aceff2HistE, 6, 6, 0.05, false),
    scatter(aceff2Scatter, 8, 8, 13, true),
    // vertical grid lines of panel c, one per method
    { type: 'custom', xAxisIndex: 11, yAxisIndex: 9, data: catIdx, silent: true, z: 1,
      renderItem: function (params, api) {
        var top = api.coord([api.value(0), cYLimits[1]]), bot = api.coord([api.value(0), cYLimits[0]]);
        return { type: 'line', shape: { x1: top[0], y1: top[1], x2: bot[0], y2: bot[1] },
          style: { stroke: '#d0d0d0', lineWidth: 1, lineDash: [5, 4] } };
      } },
    Object.assign(scatter(cPoints, 11, 9, 11.5, false), { z: 2 }),
    // box + whiskers + median
    { type: 'custom', xAxisIndex: 11, yAxisIndex: 9, data: boxData, silent: true, z: 4,
      renderItem: function (params, api) {
        var i = api.value(0);
        var lo = api.coord([i, api.value(1)]), q1 = api.coord([i, api.value(2)]), med = api.coord([i, api.value(3)]);
        var q3 = api.coord([i, api.value(4)]), hi = api.coord([i, api.value(5)]);
        var hw = api.size([0.5, 0])[0] / 2, cw = hw / 2, x = lo[0];
        var ls = { stroke: '#000', lineWidth: 2.2, fill: 'none' };
        return { type: 'group', children: [
          { type: 'line', shape: { x1: x, y1: q1[1], x2: x, y2: lo[1] }, style: ls },
          { type: 'line', shape: { x1: x, y1: q3[1], x2: x, y2: hi[1] }, style: ls },
          { type: 'line', shape: { x1: x - cw, y1: lo[1], x2: x + cw, y2: lo[1] }, style: ls },
          { type: 'line', shape: { x1: x - cw, y1: hi[1], x2: x + cw, y2: hi[1] }, style: ls },
          { type: 'rect', shape: { x: x - hw, y: q3[1], width: hw * 2, height: q1[1] - q3[1] }, style: ls },
          { type: 'line', shape: { x1: x - hw, y1: med[1], x2: x + hw, y2: med[1] },
            style: { stroke: '#ff7f0e', lineWidth: 2.5 } }
        ] };
      } },
    // rotated method labels, centred under their ticks
    { type: 'custom', xAxisIndex: 11, yAxisIndex: 9, data: catIdx, silent: true, z: 5,
      renderItem: function (params, api) {
        var i = api.value(0), name = methods[i];
        var p = api.coord([i, cYLimits[0]]);
        var w = measureCtx.measureText(name).width;
        var half = (w + catFont) * Math.SQRT1_2 / 2;
        return { type: 'text', x: p[0] - 3, y: p[1] + 20 + half, rotation: Math.PI / 4,
          style: { text: name, font: catFont + 'px "DejaVu Sans"', fill: '#000', align: 'center',
            verticalAlign: 'middle' } };
      } }
  ]
};

if (option && typeof option === "object") {
  myChart.setOption(option, true);
}
</script>
</body>
</html>
